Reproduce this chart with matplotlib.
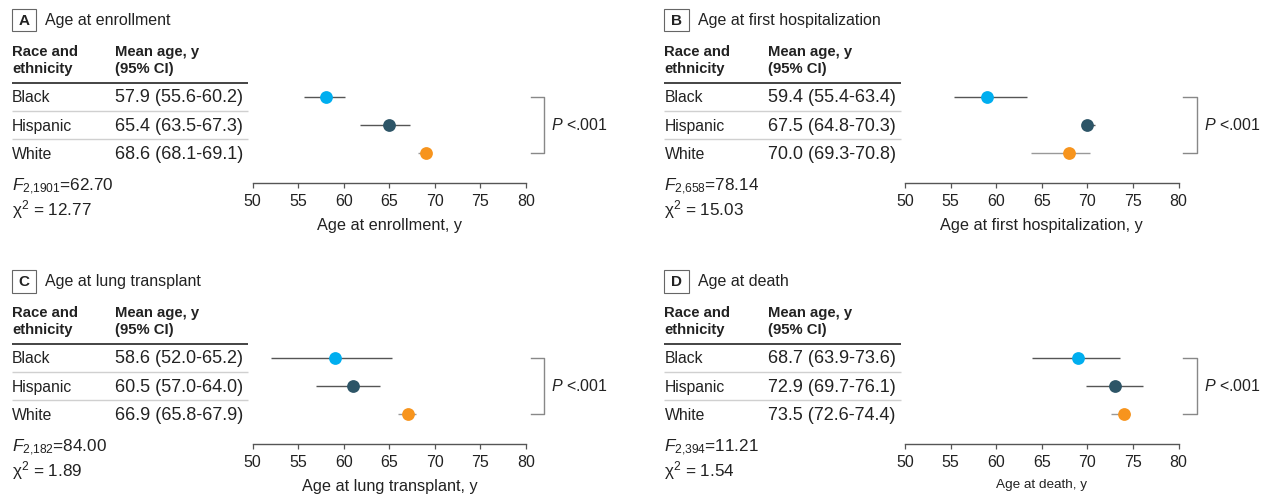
import matplotlib
matplotlib.use("Agg")
import matplotlib.pyplot as plt
from matplotlib.lines import Line2D
from matplotlib.patches import Rectangle

plt.rcParams['font.family'] = ['Liberation Sans', 'DejaVu Sans']
plt.rcParams['mathtext.fontset'] = 'custom'
plt.rcParams['mathtext.rm'] = 'Liberation Sans'
plt.rcParams['mathtext.it'] = 'Liberation Sans:italic'

# ---------------- data ----------------
groups = ['Black', 'Hispanic', 'White']
panel_letters = ['A', 'B', 'C', 'D']
panel_titles = ['Age at enrollment', 'Age at first hospitalization',
                'Age at lung transplant', 'Age at death']
axis_labels = ['Age at enrollment, y', 'Age at first hospitalization, y',
               'Age at lung transplant, y', 'Age at death, y']

# table text (mean age, 95% CI)
table_A = ['57.9 (55.6-60.2)', '65.4 (63.5-67.3)', '68.6 (68.1-69.1)']
table_B = ['59.4 (55.4-63.4)', '67.5 (64.8-70.3)', '70.0 (69.3-70.8)']
table_C = ['58.6 (52.0-65.2)', '60.5 (57.0-64.0)', '66.9 (65.8-67.9)']
table_D = ['68.7 (63.9-73.6)', '72.9 (69.7-76.1)', '73.5 (72.6-74.4)']

# plotted points and CI whiskers, as drawn in the figure
mean_A = [58.0, 65.0, 69.0]
lo_A = [55.6, 61.8, 68.1]
hi_A = [60.1, 67.3, 69.5]
mean_B = [59.0, 70.0, 68.0]
lo_B = [55.4, 69.4, 63.8]
hi_B = [63.4, 70.8, 70.3]
mean_C = [59.0, 61.0, 67.0]
lo_C = [52.0, 56.9, 65.9]
hi_C = [65.3, 64.0, 67.9]
mean_D = [69.0, 73.0, 74.0]
lo_D = [63.9, 69.9, 72.6]
hi_D = [73.6, 76.1, 74.7]

f_df = ['2,1901', '2,658', '2,182', '2,394']
f_val = ['62.70', '78.14', '84.00', '11.21']
chi2_val = ['12.77', '15.03', '1.89', '1.54']
p_text = '<.001'

x_ticks = [50, 55, 60, 65, 70, 75, 80]

tables = [table_A, table_B, table_C, table_D]
means = [mean_A, mean_B, mean_C, mean_D]
los = [lo_A, lo_B, lo_C, lo_D]
his = [hi_A, hi_B, hi_C, hi_D]

# ---------------- style ----------------
W, H = 1275, 498
dot_colors = ['#00AEEF', '#2D5567', '#F7941D']
ci_colors = ['#555555', '#555555', '#999999']
txt = '#222222'

fig = plt.figure(figsize=(W / 100, H / 100), dpi=100)


def fx(x):
    return x / W


def fy(y):
    return 1 - y / H


def hline(x0, x1, y, color, lw):
    fig.add_artist(Line2D([fx(x0), fx(x1)], [fy(y), fy(y)], color=color,
                          lw=lw, transform=fig.transFigure, solid_capstyle='butt'))


offsets = [(0, 0), (652.5, 0), (0, 261), (652.5, 261)]

for i in range(4):
    dx, dy = offsets[i]
    # panel letter box and title
    fig.add_artist(Rectangle((fx(11.7 + dx), fy(31.5 + dy)), fx(24.3), 22.2 / H,
                             fill=False, edgecolor='#666666', lw=0.8,
                             transform=fig.transFigure))
    fig.text(fx(23.9 + dx), fy(20.6 + dy), panel_letters[i], ha='center', va='center',
             fontsize=11, fontweight='bold', color=txt)
    fig.text(fx(45 + dx), fy(20.6 + dy), panel_titles[i], ha='left', va='center',
             fontsize=11.5, color=txt)
    # table header
    for (xx, yy, s) in [(12, 51.7, 'Race and'), (12, 69, 'ethnicity'),
                        (115, 51.7, 'Mean age, y'), (115, 69, '(95% CI)')]:
        fig.text(fx(xx + dx), fy(yy + dy), s, ha='left', va='center',
                 fontsize=10.7, fontweight='bold', color=txt)
    hline(11.7 + dx, 248.3 + dx, 83.3 + dy, '#111111', 1.1)
    row_y = [97.5, 126.0, 154.0]
    for r in range(3):
        fig.text(fx(12 + dx), fy(row_y[r] + dy), groups[r], ha='left', va='center',
                 fontsize=11.3, color=txt)
        fig.text(fx(115 + dx), fy(row_y[r] + dy), tables[i][r], ha='left', va='center',
                 fontsize=13, color=txt)
    hline(11.7 + dx, 248.3 + dx, 111.3 + dy, '#d0d0d0', 1.0)
    hline(11.7 + dx, 248.3 + dx, 139.3 + dy, '#d0d0d0', 1.0)
    # stats
    sub = f_df[i].replace(',', '{,}')
    fig.text(fx(12 + dx), fy(187 + dy), r'$F_{\mathrm{%s}}$=%s' % (sub, f_val[i]),
             ha='left', va='center', fontsize=12.3, color=txt)
    fig.text(fx(12 + dx), fy(210 + dy), 'χ$^{2}$ = %s' % chi2_val[i],
             ha='left', va='center', fontsize=12.3, color=txt)

    # dot plot axes
    x0, x1 = 252.7 + dx, 526.0 + dx
    ybot = 183.3 + dy
    ytop = 85.0 + dy
    ax = fig.add_axes([fx(x0), fy(ybot), (x1 - x0) / W, (ybot - ytop) / H])
    row0 = 97.3 + dy
    step = 28.0
    ax.set_xlim(50, 80)
    ax.set_ylim((ybot - row0) / step, (ytop - row0) / step)
    ypos = [0, 1, 2]
    for r in range(3):
        ax.hlines(ypos[r], los[i][r], his[i][r], color=ci_colors[r], lw=1.0, zorder=2)
        ax.plot(means[i][r], ypos[r], 'o', ms=9.2, color=dot_colors[r],
                mec='none', zorder=3)
    # bracket
    ax.plot([80.5, 82.0, 82.0, 80.5], [0, 0, 2, 2], color='#888888', lw=1.0,
            clip_on=False)
    ax.text(82.75, 1, r'$P$ ' + p_text, ha='left', va='center', fontsize=11.5,
            color=txt, clip_on=False)

    for s in ['top', 'right', 'left']:
        ax.spines[s].set_visible(False)
    ax.spines['bottom'].set_color('#555555')
    ax.spines['bottom'].set_linewidth(1.0)
    ax.set_xticks(x_ticks)
    ax.set_yticks([])
    ax.tick_params(axis='x', direction='out', length=3.5, width=0.9,
                   color='#555555', labelsize=11.5, labelcolor=txt, pad=4)
    ax.set_xlabel(axis_labels[i], fontsize=9.7 if i == 3 else 11.7,
                  color=txt, labelpad=7)
    ax.patch.set_visible(False)

fig.savefig('out.png', dpi=100)
